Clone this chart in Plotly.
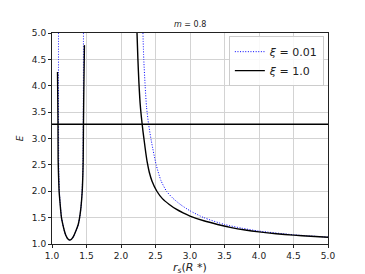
import plotly.graph_objects as go

# values
# xi = 0.01 (blue, dotted): well branch and outer branch
well_x_001 = [1.094, 1.094, 1.095, 1.097, 1.100, 1.107, 1.117, 1.127, 1.138, 1.155, 1.178, 1.200, 1.225,
              1.254, 1.285, 1.315, 1.347, 1.380, 1.400, 1.420, 1.436, 1.445, 1.450, 1.453, 1.455, 1.456]
well_E_001 = [5.00, 4.00, 3.27, 2.60, 2.30, 2.00, 1.80, 1.65, 1.50, 1.38, 1.25, 1.16, 1.10,
              1.072, 1.09, 1.15, 1.245, 1.36, 1.49, 1.69, 2.00, 2.30, 2.60, 3.27, 4.00, 5.00]
out_x_001 = [2.318, 2.33, 2.35, 2.37, 2.40, 2.44, 2.51, 2.58, 2.66, 2.75, 2.87, 3.00,
             3.20, 3.50, 3.75, 4.00, 4.50, 5.00]
out_E_001 = [5.00, 4.50, 4.00, 3.60, 3.27, 2.95, 2.50, 2.20, 2.00, 1.87, 1.74, 1.63,
             1.50, 1.37, 1.30, 1.245, 1.175, 1.13]

# xi = 1.0 (black, solid)
well_x_1 = [1.080, 1.084, 1.087, 1.089, 1.095, 1.103, 1.115, 1.125, 1.137, 1.155, 1.179, 1.200, 1.225,
            1.254, 1.285, 1.315, 1.347, 1.380, 1.400, 1.420, 1.438, 1.447, 1.452, 1.456, 1.462, 1.470]
well_E_1 = [4.26, 3.70, 3.27, 2.60, 2.30, 2.00, 1.80, 1.65, 1.50, 1.38, 1.25, 1.165, 1.105,
            1.076, 1.095, 1.155, 1.25, 1.37, 1.50, 1.70, 2.00, 2.30, 2.60, 3.27, 4.00, 4.77]
out_x_1 = [2.232, 2.245, 2.26, 2.28, 2.30, 2.32, 2.34, 2.36, 2.38, 2.41, 2.45, 2.52, 2.60, 2.70,
           2.80, 2.90, 3.00, 3.20, 3.40, 3.60, 3.80, 4.00, 4.25, 4.50, 4.75, 5.00]
out_E_1 = [5.00, 4.50, 4.05, 3.62, 3.35, 3.12, 2.92, 2.72, 2.55, 2.36, 2.19, 2.00, 1.86, 1.75,
           1.66, 1.59, 1.53, 1.44, 1.37, 1.31, 1.265, 1.23, 1.195, 1.168, 1.146, 1.127]

E_level = 3.27
x_range = [1.0, 5.0]
tick_vals = [1.0, 1.5, 2.0, 2.5, 3.0, 3.5, 4.0, 4.5, 5.0]
tick_text = ["1.0", "1.5", "2.0", "2.5", "3.0", "3.5", "4.0", "4.5", "5.0"]

fig = go.Figure()

# xi = 0.01
fig.add_trace(go.Scatter(x=well_x_001 + [None] + out_x_001, y=well_E_001 + [None] + out_E_001,
                         mode="lines", line=dict(color="#0000ff", width=1, dash="1px,1.6px",
                                                 shape="spline", smoothing=0.6),
                         name="<i>ξ</i> = 0.01", connectgaps=False))
# xi = 1.0
fig.add_trace(go.Scatter(x=well_x_1 + [None] + out_x_1, y=well_E_1 + [None] + out_E_1,
                         mode="lines", line=dict(color="black", width=1.4, shape="spline", smoothing=0.6),
                         name="<i>ξ</i> = 1.0", connectgaps=False))
# energy level
fig.add_trace(go.Scatter(x=x_range, y=[E_level, E_level], mode="lines",
                         line=dict(color="black", width=1.4), showlegend=False))

axis_style = dict(showline=True, linecolor="#222222", linewidth=1, mirror=True,
                  ticks="outside", ticklen=3, tickcolor="#222222",
                  showgrid=True, gridcolor="#d3d3d3", gridwidth=1, zeroline=False,
                  tickfont=dict(size=9, color="#222222"),
                  tickvals=tick_vals, ticktext=tick_text)

fig.update_xaxes(range=x_range, **axis_style)
fig.update_yaxes(range=[1.0, 5.0], **axis_style,
                 title=dict(text="<i>E</i>", font=dict(size=9, color="#222222"), standoff=6))

fig.add_annotation(text="<i>m</i> = 0.8", x=0.5, y=1.0, xref="paper", yref="paper",
                   xanchor="center", yanchor="bottom", yshift=2, showarrow=False,
                   font=dict(size=8, color="#222222"))
# x axis title
fig.add_annotation(text="<i>r<sub>s</sub></i>(<i>R</i> *)", x=0.5, y=0.0, xref="paper", yref="paper",
                   xanchor="center", yanchor="top", yshift=-15, showarrow=False,
                   font=dict(size=11, color="#222222"))

# the page body has an 8px margin, so the figure is 8px smaller than the window
fig.update_layout(
    width=357, height=266,
    margin=dict(l=37, r=37, t=25, b=30),
    plot_bgcolor="white", paper_bgcolor="white",
    font=dict(family="DejaVu Sans", color="#222222"),
    legend=dict(x=0.985, y=0.985, xanchor="right", yanchor="top",
                bgcolor="rgba(255,255,255,0.85)", bordercolor="#cccccc", borderwidth=1,
                font=dict(size=11), tracegroupgap=0, itemwidth=30),
)

fig.write_html("out.html")
